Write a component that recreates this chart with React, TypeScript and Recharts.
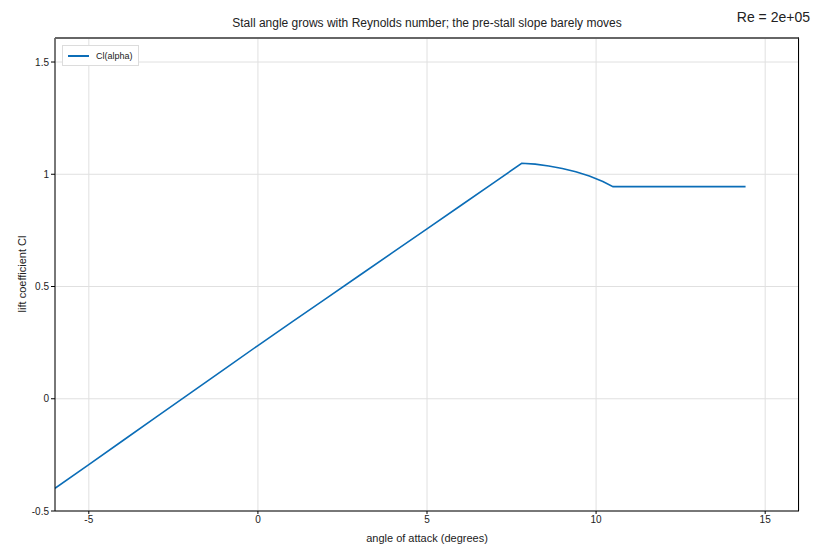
import { CartesianGrid, Line, LineChart, XAxis, YAxis } from 'recharts';

const ALPHA = [-6, -5, -4, -3, -2, -1, 0, 1, 2, 3, 4, 5, 6, 7, 7.8, 8.2, 8.6, 9.0, 9.4, 9.8, 10.2, 10.5, 11, 12, 13, 14, 14.42];
const CL = [
  -0.399, -0.293, -0.187, -0.081, 0.025, 0.131, 0.237, 0.341, 0.445, 0.549, 0.653, 0.757, 0.861, 0.965,
  1.049, 1.045, 1.037, 1.026, 1.011, 0.992, 0.968, 0.945, 0.945, 0.945, 0.945, 0.945, 0.945,
];
const X_TICKS = [-5, 0, 5, 10, 15];
const Y_TICKS = [-0.5, 0, 0.5, 1, 1.5];

const BLUE = '#0b6db7';
const FONT = '"Liberation Sans", Arial, sans-serif';

const data = ALPHA.map((a, i) => ({ alpha: a, cl: CL[i] }));

export default function App() {
  return (
    <div style={{ position: 'absolute', left: 0, top: 0, width: 820, height: 560, background: '#fff', fontFamily: FONT }}>
      <LineChart width={820} height={560} data={data} margin={{ top: 38, right: 21, bottom: 19, left: 0 }}>
        <CartesianGrid xAxisId="b" yAxisId="l" stroke="#e0e0e0" strokeWidth={1} />
        <XAxis
          xAxisId="b" dataKey="alpha" type="number" domain={[-6, 16]} ticks={X_TICKS} height={30}
          stroke="#000" tick={{ fill: '#222', fontSize: 10 }} tickSize={3} allowDataOverflow
        />
        <YAxis
          yAxisId="l" type="number" domain={[-0.5, 1.607]} ticks={Y_TICKS} width={55}
          stroke="#000" tick={{ fill: '#222', fontSize: 10 }} tickSize={4} allowDataOverflow
        />
        <Line
          xAxisId="b" yAxisId="l" type="linear" dataKey="cl" name="Cl(alpha)" stroke={BLUE} strokeWidth={1.6}
          dot={false} isAnimationActive={false}
        />
      </LineChart>
      {/* top and right frame lines */}
      <div
        style={{
          position: 'absolute', left: 55, top: 37, width: 744, height: 474, boxSizing: 'border-box',
          borderTop: '2px solid #666', borderRight: '1px solid #000', pointerEvents: 'none',
        }}
      />
      <div
        style={{
          position: 'absolute', left: 62, top: 45, height: 21, boxSizing: 'border-box', border: '1px solid #dcdcdc',
          background: '#fff', padding: '0 5px', display: 'flex', alignItems: 'center', fontSize: 9, color: '#222',
        }}
      >
        <span style={{ display: 'inline-block', width: 21, height: 2, background: BLUE, marginRight: 7 }} />
        Cl(alpha)
      </div>
      <div style={{ position: 'absolute', left: 55, width: 744, top: 16, textAlign: 'center', fontSize: 12, color: '#222' }}>
        Stall angle grows with Reynolds number; the pre-stall slope barely moves
      </div>
      <div style={{ position: 'absolute', right: 10, top: 9, fontSize: 14, color: '#222' }}>Re = 2e+05</div>
      <div style={{ position: 'absolute', left: 55, width: 744, top: 532, textAlign: 'center', fontSize: 11, color: '#222' }}>
        angle of attack (degrees)
      </div>
      <div
        style={{
          position: 'absolute', left: 22, top: 274, fontSize: 11, color: '#222', whiteSpace: 'nowrap',
          transform: 'translate(-50%, -50%) rotate(-90deg)',
        }}
      >
        lift coefficient Cl
      </div>
    </div>
  );
}
